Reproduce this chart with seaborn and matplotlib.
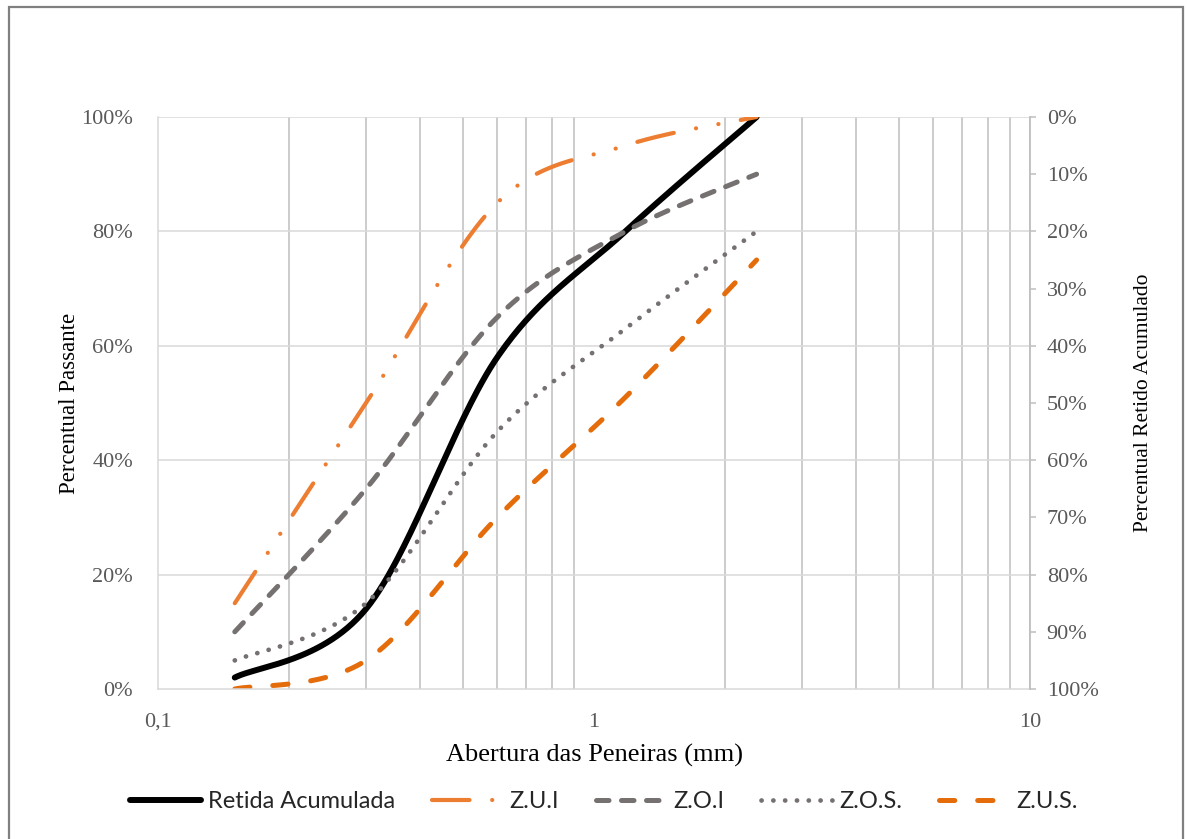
import numpy as np
import seaborn as sns
import matplotlib
matplotlib.use("Agg")
import matplotlib.pyplot as plt
from matplotlib.patches import Rectangle
from matplotlib.ticker import FixedLocator, FuncFormatter, NullFormatter

# sieve openings (mm) and percent passing
peneiras = [0.15, 0.3, 0.6, 1.18, 2.36]
retida_acumulada = [2, 14, 58, 80, 100]
zui = [15, 50, 85, 95, 100]
zoi = [10, 35, 65, 80, 90]
zos = [5, 15, 45, 63, 80]
zus = [0, 5, 30, 51, 75]


def excel_smooth(x, y, n=60):
    """Bezier smoothing like Excel's 'smoothed line' (done in log-x space)."""
    px = np.log10(np.asarray(x, float))
    py = np.asarray(y, float)
    P = np.column_stack([px, py])
    m = len(P)
    out = []
    t = np.linspace(0, 1, n)[:, None]
    for i in range(m - 1):
        p0, p1 = P[i], P[i + 1]
        pm = P[max(i - 1, 0)]
        pp = P[min(i + 2, m - 1)]
        c1 = p0 + (p1 - pm) / 6
        c2 = p1 - (pp - p0) / 6
        seg = ((1 - t) ** 3) * p0 + 3 * ((1 - t) ** 2) * t * c1 + 3 * (1 - t) * t ** 2 * c2 + t ** 3 * p1
        out.append(seg if i == 0 else seg[1:])
    out = np.vstack(out)
    return 10 ** out[:, 0], out[:, 1]


sns.set_theme(style="white")
plt.rcParams["font.family"] = ["Liberation Serif", "DejaVu Serif"]
plt.rcParams["lines.scale_dashes"] = False

fig = plt.figure(figsize=(11.87, 8.39), dpi=100)
ax = fig.add_axes([158 / 1187, 150 / 839, 872 / 1187, 572 / 839])

series = [
    ("Retida Acumulada", retida_acumulada, "black", 4.3, "-"),
    ("Z.U.I", zui, "#ED7D31", 3.0, (0, (27, 16.3, 0.1, 16.3, 0.1, 16.3))),
    ("Z.O.I", zoi, "#767171", 3.6, (0, (9, 9))),
    ("Z.O.S.", zos, "#767171", 3.4, (0, (0.1, 8.4))),
    ("Z.U.S.", zus, "#E46C0A", 3.6, (0, (11, 16.5))),
]

for name, vals, color, lw, ls in series:
    sx, sy = excel_smooth(peneiras, vals)
    sns.lineplot(x=sx, y=sy, ax=ax, color=color, lw=lw, linestyle=ls,
                 estimator=None, sort=False, label=name,
                 solid_capstyle="round", dash_capstyle="round")

ax.set_xscale("log")
ax.set_xlim(0.1, 10)
ax.set_ylim(0, 100)

majors = [0.1, 1, 10]
minors = [k * d for d in (0.1, 1) for k in range(2, 10)]
ax.xaxis.set_major_locator(FixedLocator(majors))
ax.xaxis.set_minor_locator(FixedLocator(minors))
ax.xaxis.set_major_formatter(FuncFormatter(lambda v, p: f"{v:g}".replace(".", ",")))
ax.xaxis.set_minor_formatter(NullFormatter())
ax.set_yticks(np.arange(0, 101, 20))
ax.yaxis.set_major_formatter(FuncFormatter(lambda v, p: f"{v:.0f}%"))

ax.grid(False)
for v in minors + [10]:
    ax.axvline(v, color="#bfbfbf", lw=1.1, zorder=0)
for h in range(20, 101, 20):
    ax.axhline(h, color="#d9d9d9", lw=1.1, zorder=0)

for s in ["top", "right"]:
    ax.spines[s].set_visible(False)
for s in ["left", "bottom"]:
    ax.spines[s].set_color("#d9d9d9")
    ax.spines[s].set_linewidth(1.1)

ax.tick_params(axis="both", which="both", length=0, labelsize=16, labelcolor="#595959")
ax.tick_params(axis="y", pad=18)
ax.tick_params(axis="x", pad=17)

ax.set_xlabel("Abertura das Peneiras (mm)", fontsize=19, color="black")
ax.xaxis.set_label_coords(0.5, -0.096)
ax.set_ylabel("Percentual Passante", fontsize=16.5, color="black", va="center")
ax.yaxis.set_label_coords(-0.101, 0.5)

ax2 = ax.twinx()
ax2.set_ylim(100, 0)
ax2.set_yticks(np.arange(0, 101, 10))
ax2.yaxis.set_major_formatter(FuncFormatter(lambda v, p: f"{v:.0f}%"))
for s in ["top", "left", "bottom"]:
    ax2.spines[s].set_visible(False)
ax2.spines["right"].set_color("#bfbfbf")
ax2.spines["right"].set_linewidth(1.3)
ax2.tick_params(axis="y", length=4, width=1.1, color="#bfbfbf", labelsize=16,
                labelcolor="#595959", pad=8)
ax2.set_ylabel("Percentual Retido Acumulado", fontsize=15.5, color="black",
               rotation=90, va="center")
ax2.yaxis.set_label_coords(1.13, 0.5)

handles, labels = ax.get_legend_handles_labels()
ax.get_legend().remove()
fig.legend(handles, labels, loc="center", bbox_to_anchor=(604 / 1187, 1 - 802 / 839),
           ncol=5, frameon=False, handlelength=3.0, handletextpad=0.3,
           columnspacing=1.55, prop={"family": "Lato", "size": 17})

# outer chart border
fig.add_artist(Rectangle((9 / 1187, -0.05), 1174 / 1187, 1.05 - 7 / 839,
                         transform=fig.transFigure, fill=False,
                         edgecolor="#808080", lw=1.6))

fig.savefig("out.png", dpi=100)
